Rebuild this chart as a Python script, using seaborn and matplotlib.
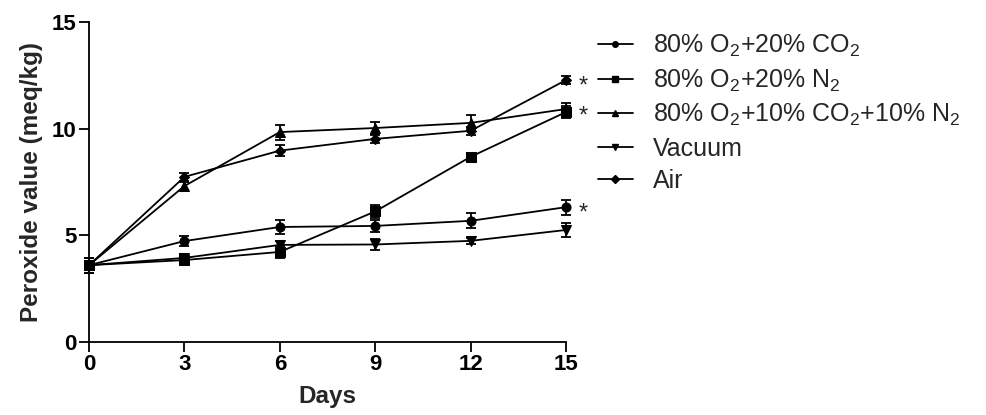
import matplotlib
matplotlib.use("Agg")
import matplotlib.pyplot as plt
import seaborn as sns
import pandas as pd
from matplotlib.lines import Line2D

days = [0, 3, 6, 9, 12, 15]
labels = ["80% O$_2$+20% CO$_2$", "80% O$_2$+20% N$_2$",
          "80% O$_2$+10% CO$_2$+10% N$_2$", "Vacuum", "Air"]
o2_co2 = [3.6, 4.73, 5.39, 5.44, 5.68, 6.32]
o2_n2 = [3.6, 3.84, 4.22, 6.12, 8.68, 10.78]
o2_co2_n2 = [3.6, 7.31, 9.84, 10.03, 10.27, 10.92]
vacuum = [3.6, 3.94, 4.55, 4.57, 4.74, 5.25]
air = [3.6, 7.74, 8.97, 9.52, 9.90, 12.28]
err_co2 = [0.35, 0.25, 0.35, 0.3, 0.35, 0.35]
err_n2 = [0.35, 0.2, 0.3, 0.3, 0.2, 0.3]
err_mix = [0.35, 0.2, 0.35, 0.3, 0.35, 0.3]
err_vac = [0.35, 0.2, 0.2, 0.25, 0.15, 0.35]
err_air = [0.35, 0.2, 0.25, 0.2, 0.2, 0.2]
markers = ["o", "s", "^", "v", "D"]
star_values = [12.28, 10.85, 6.32]

series = [o2_co2, o2_n2, o2_co2_n2, vacuum, air]
errs = [err_co2, err_n2, err_mix, err_vac, err_air]

rows = []
for lab, vals in zip(labels, series):
    for d, v in zip(days, vals):
        rows.append({"Days": d, "value": v, "group": lab})
df = pd.DataFrame(rows)

sns.set_theme(style="ticks")
plt.rcParams["font.family"] = ["Liberation Sans", "DejaVu Sans"]
plt.rcParams["mathtext.fontset"] = "custom"
plt.rcParams["mathtext.rm"] = "Liberation Sans"
plt.rcParams["mathtext.it"] = "Liberation Sans"

fig = plt.figure(figsize=(9.86, 4.15), dpi=100)
ax = fig.add_axes([0.0903, 0.176, 0.4838, 0.771])

for lab, vals, e, m in zip(labels, series, errs, markers):
    ax.errorbar(days, vals, yerr=e, fmt="none", ecolor="black",
                elinewidth=1.3, capsize=3.5, capthick=1.3, clip_on=False, zorder=2)
    ms = 6.5 if m == "o" else 7
    if m == "D":
        ms = 5.5
    sns.lineplot(data=df[df["group"] == lab], x="Days", y="value", ax=ax,
                 color="black", linewidth=1.3, marker=m, markersize=ms,
                 markeredgecolor="black", markerfacecolor="black",
                 clip_on=False, zorder=3, legend=False)

for v in star_values:
    ax.text(15.4, v - 0.3, "*", fontsize=17, ha="left", va="center")

ax.set_xlim(0, 15)
ax.set_ylim(0, 15)
ax.set_xticks([0, 3, 6, 9, 12, 15])
ax.set_yticks([0, 5, 10, 15])
for s in ["top", "right"]:
    ax.spines[s].set_visible(False)
for s in ["left", "bottom"]:
    ax.spines[s].set_linewidth(1.3)
    ax.spines[s].set_color("black")
ax.tick_params(axis="both", direction="out", length=7, width=1.3,
               labelsize=16, colors="black", pad=2)
for t in ax.get_xticklabels() + ax.get_yticklabels():
    t.set_fontweight("bold")
ax.set_xlabel("Days", fontsize=17.5, fontweight="bold", labelpad=7)
ax.set_ylabel("Peroxide value (meq/kg)", fontsize=17.5, fontweight="bold", labelpad=6)

handles = [Line2D([0], [0], color="black", lw=1.3, marker=m,
                  markersize=4, markerfacecolor="black") for m in markers]
fig.legend(handles, labels, loc="upper left", bbox_to_anchor=(0.606, 0.92),
           frameon=False, fontsize=18, handlelength=1.4, handletextpad=0.8,
           labelspacing=0.33, borderaxespad=0, borderpad=0)

fig.savefig("out.png", dpi=100)
